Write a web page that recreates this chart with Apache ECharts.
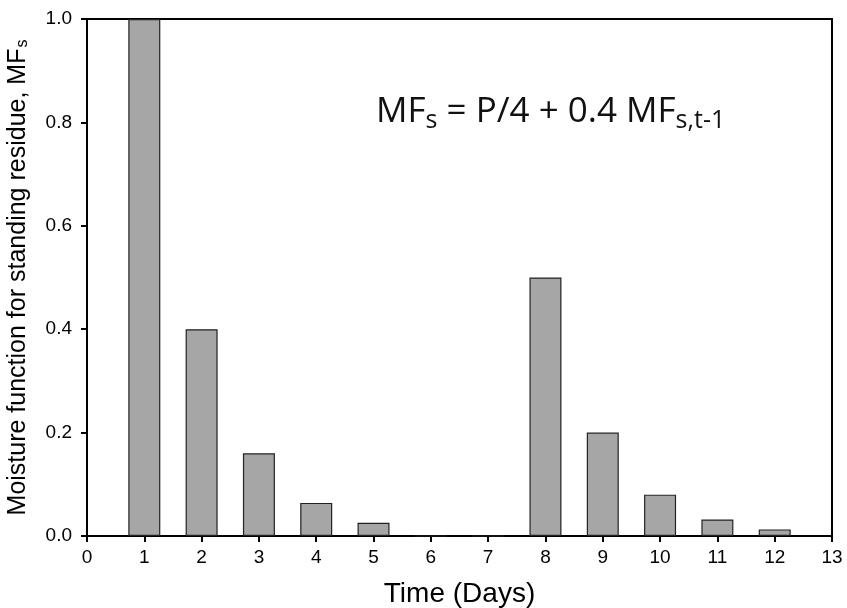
<!DOCTYPE html>
<html><head><meta charset="utf-8">
<script src="https://cdn.jsdelivr.net/npm/echarts@6/dist/echarts.min.js"></script>
<style>html,body{margin:0;padding:0;background:#fff}#c{width:847px;height:608px}</style>
</head><body><div id="c"></div>
<script>
const days = [1,2,3,4,5,6,7,8,9,10,11,12];
const mfValues = [1.0,0.4,0.16,0.064,0.0256,0,0,0.5,0.2,0.08,0.032,0.0128];
const xTicks = {min:0, max:13, interval:1};
const yTicks = {min:0, max:1.0, interval:0.2};

const chart = echarts.init(document.getElementById('c'));
const lab = {color:'#000', fontFamily:'Liberation Sans, Arial', fontSize:19};
chart.setOption({
  animation:false,
  grid:{left:87,right:15,top:19,bottom:72,containLabel:false,outerBoundsMode:'none',show:true,borderColor:'#000',borderWidth:2,backgroundColor:'transparent'},
  xAxis:{type:'value',min:xTicks.min,max:xTicks.max,interval:xTicks.interval,
    axisLine:{lineStyle:{color:'#000',width:2}},
    axisTick:{show:true,length:6,lineStyle:{color:'#000',width:2}},
    splitLine:{show:false},
    axisLabel:Object.assign({margin:12,formatter:v=>String(v)},lab),
    name:'Time (Days)',nameLocation:'middle',nameGap:44,
    nameTextStyle:{color:'#000',fontFamily:'Liberation Sans, Arial',fontSize:28}},
  yAxis:{type:'value',min:yTicks.min,max:yTicks.max,interval:yTicks.interval,
    axisLine:{show:true,lineStyle:{color:'#000',width:2}},
    axisTick:{show:true,length:6,lineStyle:{color:'#000',width:2}},
    splitLine:{show:false},
    axisLabel:Object.assign({margin:15,formatter:v=>v.toFixed(1)},lab),
    name:'{a|Moisture function for standing residue, MF}{s|s}',nameLocation:'middle',nameGap:56,nameRotate:90,
    nameTextStyle:{color:'#000',fontFamily:'Liberation Sans, Arial',fontSize:25,
      rich:{a:{color:'#000',fontFamily:'Liberation Sans, Arial',fontSize:25},
            s:{color:'#000',fontFamily:'Liberation Sans, Arial',fontSize:16,padding:[9,0,0,1]}}}},
  series:[{type:'bar',barWidth:32,
    data:days.map((d,i)=>[d,mfValues[i]]),
    itemStyle:{color:'#a6a6a6',borderColor:'#222',borderWidth:1.2}}],
  graphic:[{type:'text',left:376,top:95,
    style:{text:'{m|MF}{s|s}{m| = P/4 + 0.4 MF}{s|s,t-1}',
      rich:{m:{fontFamily:'Open Sans',fontSize:35,fill:'#111',color:'#111'},
            s:{fontFamily:'Open Sans',fontSize:25,fill:'#111',color:'#111',padding:[16,0,0,0]}}}}]
});
</script></body></html>
